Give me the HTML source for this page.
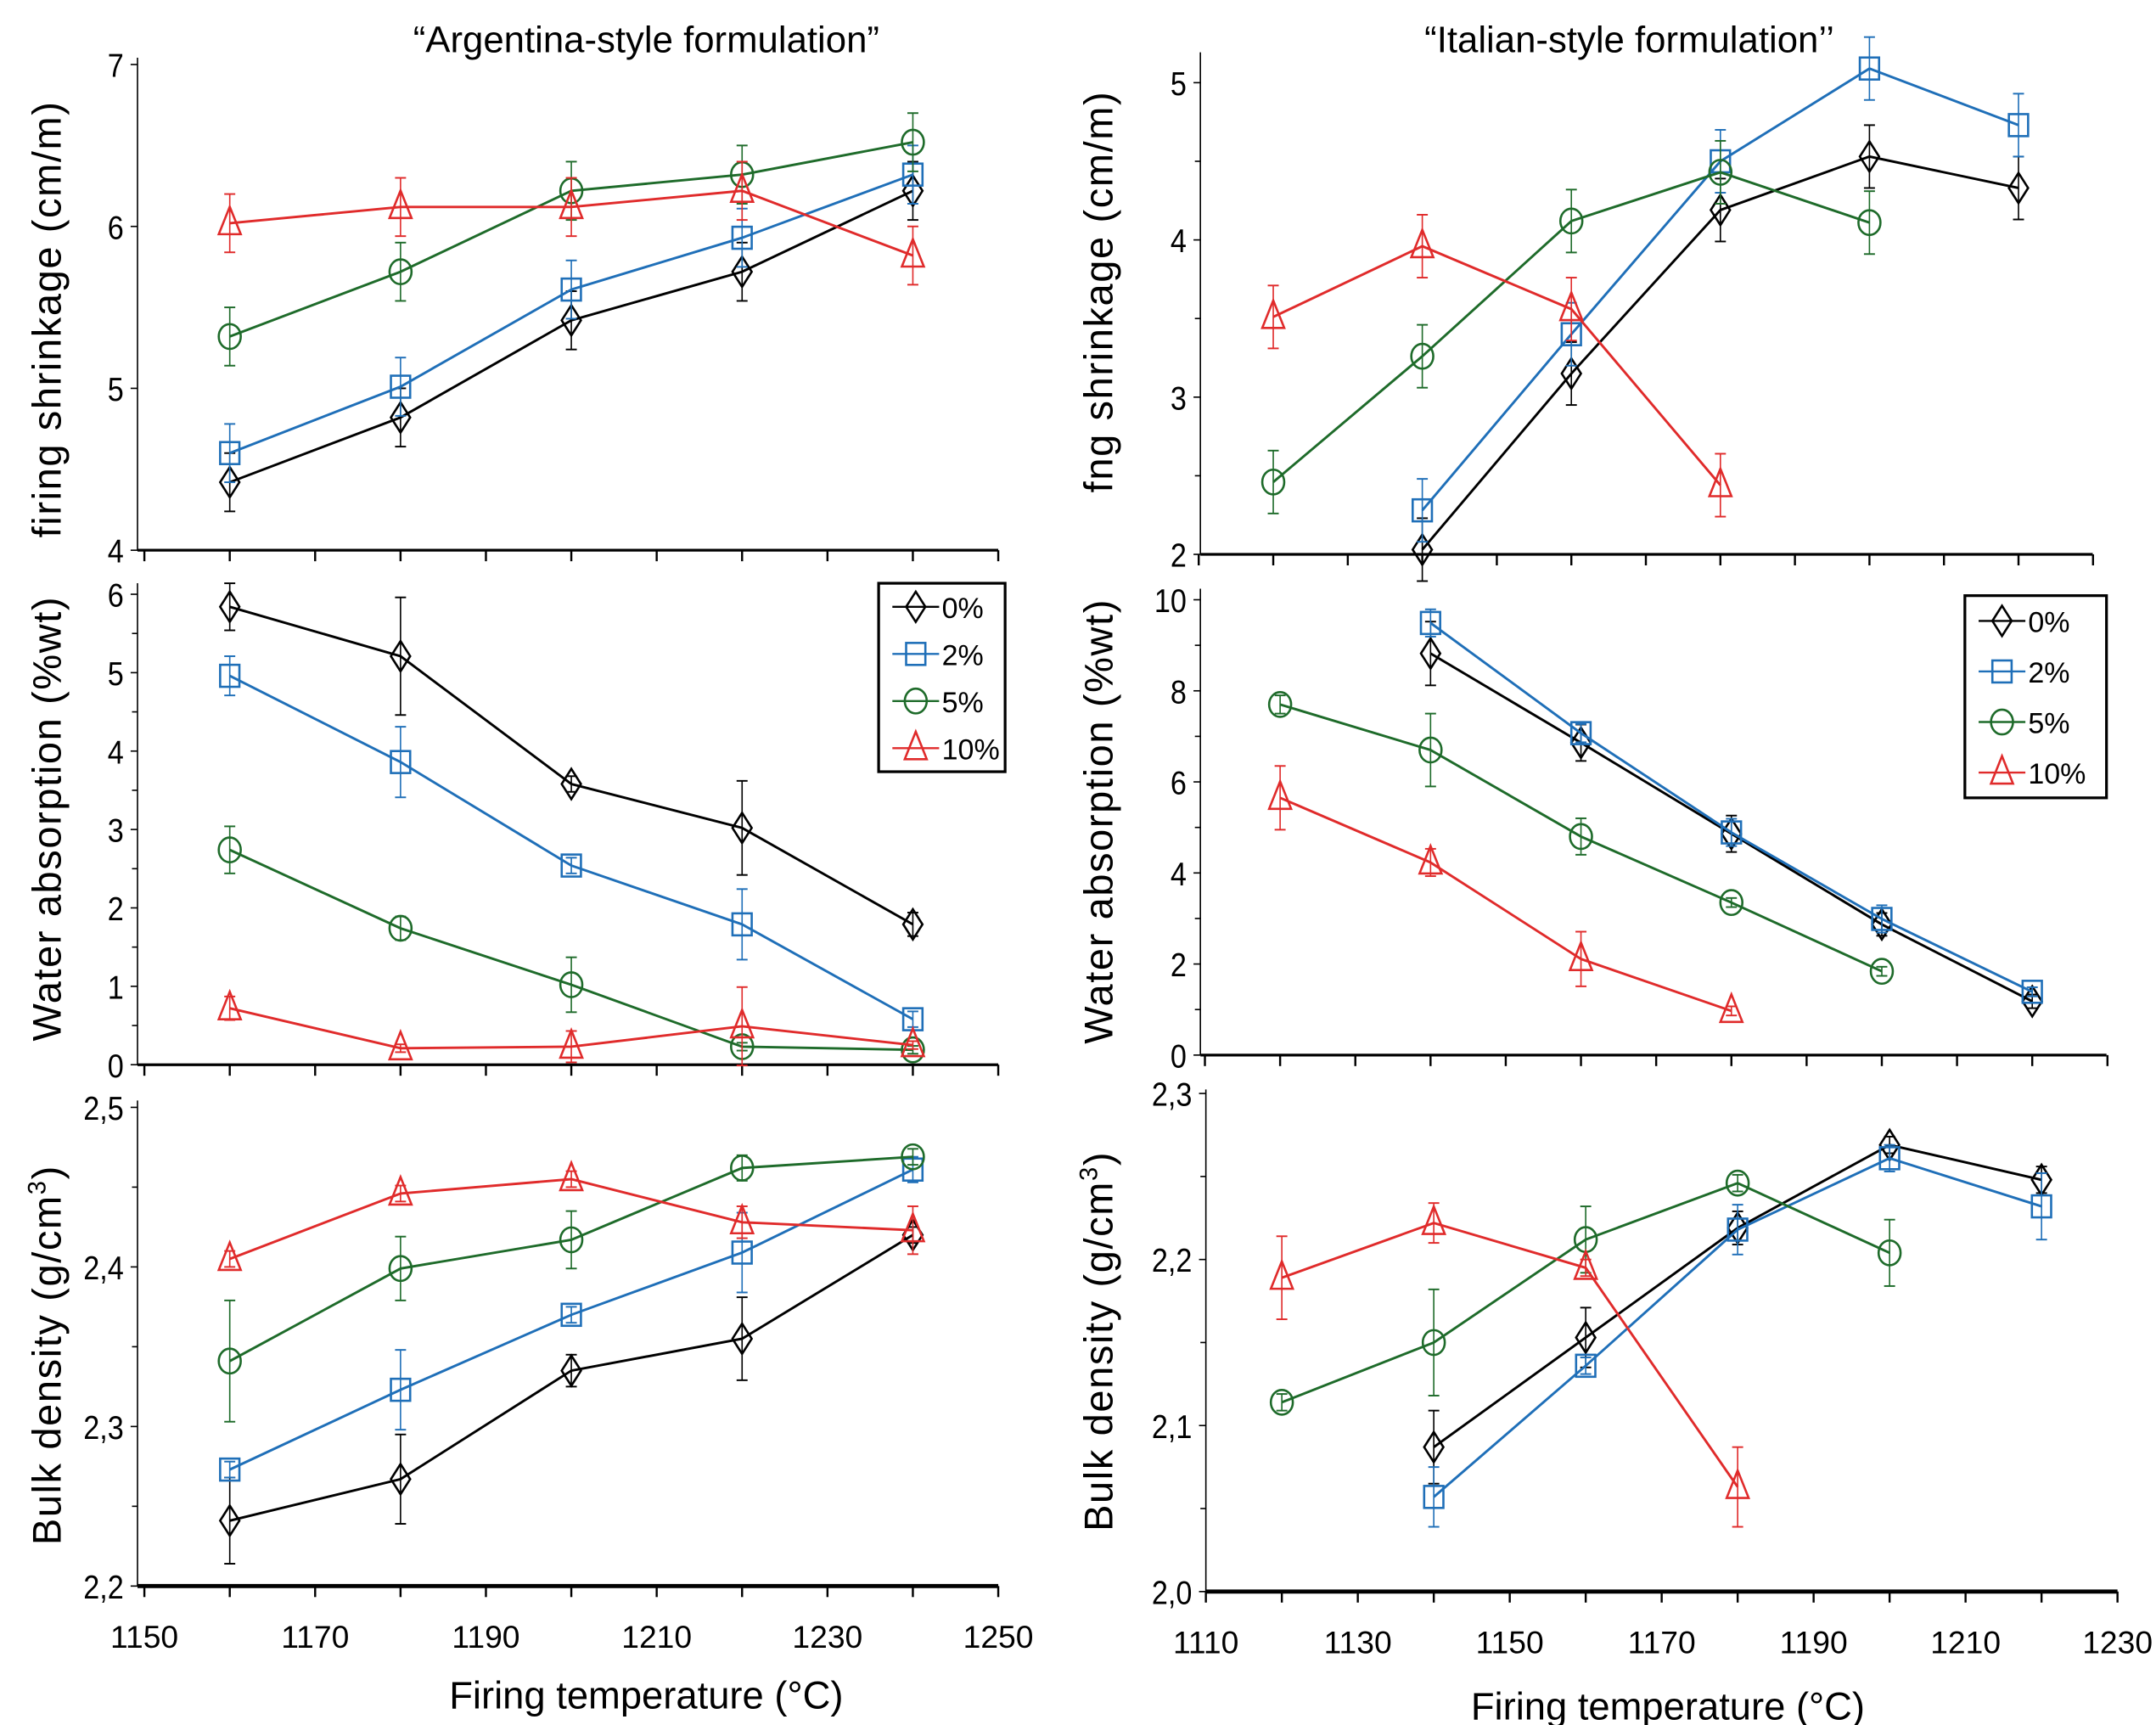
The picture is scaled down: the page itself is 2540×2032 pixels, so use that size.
<!DOCTYPE html>
<html><head><meta charset="utf-8"><style>
html,body{margin:0;padding:0;background:#fff;}
svg{display:block;font-family:"Liberation Sans",sans-serif;}
</style></head><body>
<svg id="fig" width="2540" height="2032" viewBox="0 0 1568 1254" preserveAspectRatio="none" xmlns="http://www.w3.org/2000/svg">
<text x="470" y="38" font-size="27" text-anchor="middle">“Argentina-style formulation”</text>
<text x="1185" y="38" font-size="27" text-anchor="middle">“Italian-style formulation’’</text>
<text x="470" y="1242" font-size="28" text-anchor="middle">Firing temperature (°C)</text>
<text x="1213" y="1250" font-size="28" text-anchor="middle">Firing temperature (°C)</text>
</svg>
<script>
const tempsL = [1160,1180,1200,1220,1240];
const tempsR = [1120,1140,1160,1180,1200,1220];
const seriesNames = ['0%','2%','5%','10%'];
const colors = ['#000000','#1f6fb8','#1e6b2a','#e02b2b'];

// Argentina shrinkage
const shrinkL0 = [4.42,4.82,5.42,5.72,6.22];
const shrinkL2 = [4.60,5.01,5.61,5.93,6.32];
const shrinkL5 = [5.32,5.72,6.22,6.32,6.52];
const shrinkL10 = [6.02,6.12,6.12,6.22,5.82];
const shrinkLErr = [0.18,0.18,0.18,0.18,0.18];
// Argentina water absorption
const waterL0 = [5.84,5.21,3.58,3.02,1.79];
const waterL2 = [4.96,3.86,2.54,1.79,0.58];
const waterL5 = [2.74,1.74,1.02,0.23,0.19];
const waterL10 = [0.72,0.21,0.23,0.49,0.25];
const waterLErr0 = [0.3,0.75,0.1,0.6,0.15];
const waterLErr2 = [0.25,0.45,0.1,0.45,0.1];
const waterLErr5 = [0.3,0.15,0.35,0.05,0.05];
const waterLErr10 = [0.15,0.05,0.2,0.5,0.05];
// Argentina bulk density
const densL0 = [2.241,2.267,2.335,2.355,2.420];
const densL2 = [2.273,2.323,2.370,2.409,2.461];
const densL5 = [2.341,2.399,2.417,2.462,2.469];
const densL10 = [2.405,2.446,2.455,2.428,2.423];
const densLErr0 = [0.027,0.028,0.01,0.026,0.005];
const densLErr2 = [0.005,0.025,0.005,0.025,0.008];
const densLErr5 = [0.038,0.02,0.018,0.008,0.005];
const densLErr10 = [0.005,0.005,0.005,0.01,0.015];
// Italian shrinkage (null = no point)
const shrinkR0 = [null,2.03,3.15,4.19,4.53,4.33];
const shrinkR2 = [null,2.28,3.40,4.50,5.09,4.73];
const shrinkR5 = [2.46,3.26,4.12,4.43,4.11,null];
const shrinkR10 = [3.51,3.96,3.56,2.44,null,null];
const shrinkRErr = [0.2,0.2,0.2,0.2,0.2,0.2];
// Italian water absorption
const waterR0 = [null,8.82,6.86,4.86,2.87,1.18];
const waterR2 = [null,9.49,7.07,4.89,2.99,1.39];
const waterR5 = [7.70,6.70,4.80,3.35,1.84,null];
const waterR10 = [5.65,4.23,2.11,0.97,null,null];
const waterRErr0 = [0,0.7,0.4,0.4,0.25,0.15];
const waterRErr2 = [0,0.3,0.2,0.3,0.3,0.1];
const waterRErr5 = [0.2,0.8,0.4,0.1,0.1,0];
const waterRErr10 = [0.7,0.3,0.6,0.1,0,0];
// Italian bulk density
const densR0 = [null,2.087,2.153,2.219,2.269,2.248];
const densR2 = [null,2.057,2.136,2.218,2.261,2.232];
const densR5 = [2.114,2.150,2.212,2.246,2.204,null];
const densR10 = [2.189,2.222,2.195,2.063,null,null];
const densRErr0 = [0,0.022,0.018,0.01,0.005,0.008];
const densRErr2 = [0,0.018,0.005,0.015,0.008,0.02];
const densRErr5 = [0.005,0.032,0.02,0.005,0.02,0];
const densRErr10 = [0.025,0.012,0.005,0.024,0,0];

const NS='http://www.w3.org/2000/svg';
const svg=document.getElementById('fig');
function el(tag,attrs,parent){const e=document.createElementNS(NS,tag);for(const k in attrs)e.setAttribute(k,attrs[k]);(parent||svg).appendChild(e);return e;}

function panel(cfg){
  const g=el('g',{});
  
  
  const xs=v=>cfg.x0+(v-cfg.t0)*cfg.xk;
  const ys=v=>cfg.yBase-(v-cfg.v0)*cfg.yk;
  const ya=el('line',{x1:cfg.axX,y1:cfg.yTop,x2:cfg.axX,y2:cfg.yBase,stroke:'#000','stroke-width':1},g);
  
  
  const xa=el('line',{x1:cfg.axX,y1:cfg.yBase,x2:cfg.axRight,y2:cfg.yBase,stroke:'#000','stroke-width':cfg.xw||2},g);
  
  
  for(let t=cfg.tick0;t<=cfg.tick1+0.01;t+=cfg.tickStep){
    const x=xs(t);
    el('line',{x1:x,y1:cfg.yBase,x2:x,y2:cfg.yBase+8,stroke:'#000','stroke-width':1.5},g);
  }
  for(let i=0;i<cfg.yTicks.length;i++){
    const v=cfg.yTicks[i];const y=ys(v);
    el('line',{x1:cfg.axX-5,y1:y,x2:cfg.axX,y2:y,stroke:'#000','stroke-width':1},g);
    const tx=el('text',{x:cfg.axX-10,y:y+9,'font-size':24,'text-anchor':'end',transform:`translate(${(cfg.axX-10)*0.12},0) scale(0.88,1)`},g);
    tx.textContent=cfg.yLabels[i];
    
    
  }
  if(cfg.minor) for(const v of cfg.minor){const y=ys(v);el('line',{x1:cfg.axX-4,y1:y,x2:cfg.axX,y2:y,stroke:'#000','stroke-width':1},g);}
  if(cfg.xLabels){
    for(let t=cfg.tick0;t<=cfg.tick1+0.01;t+=cfg.labStep){
      const lt=el('text',{x:xs(t),y:cfg.yBase+45,'font-size':23,'text-anchor':'middle'},g);
      lt.textContent=String(t);
      
      
    }
  }
  const yl=el('text',{x:0,y:0,'font-size':29,'text-anchor':'middle','letter-spacing':1,transform:`translate(${cfg.ylx},${cfg.yly}) rotate(-90)`},g);
  yl.textContent=cfg.ylabel;
  
  
  if(cfg.ylabelSup){const ts=el('tspan',{'font-size':18,dy:-11},yl);ts.textContent=cfg.ylabelSup;const ts2=el('tspan',{dy:11},yl);ts2.textContent=')';}
  cfg.series.forEach((vals,si)=>{
    const c=colors[si];const errs=cfg.errs[si];
    const sg=el('g',{},g);
    
    
    let pts=[];
    vals.forEach((v,i)=>{if(v!==null)pts.push([xs(cfg.temps[i]),ys(v),errs[i]*cfg.yk]);});
    el('polyline',{points:pts.map(p=>p[0]+','+p[1]).join(' '),fill:'none',stroke:c,'stroke-width':1.8},sg);
    pts.forEach(p=>{
      if(p[2]>0){
        el('line',{x1:p[0],y1:p[1]-p[2],x2:p[0],y2:p[1]+p[2],stroke:c,'stroke-width':1},sg);
        el('line',{x1:p[0]-4,y1:p[1]-p[2],x2:p[0]+4,y2:p[1]-p[2],stroke:c,'stroke-width':1.2},sg);
        el('line',{x1:p[0]-4,y1:p[1]+p[2],x2:p[0]+4,y2:p[1]+p[2],stroke:c,'stroke-width':1.2},sg);
      }
      marker(sg,si,p[0],p[1],c);
    });
  });
}
function marker(g,si,x,y,c){
  let m;
  if(si===0)m=el('polygon',{points:`${x},${y-11} ${x+7},${y} ${x},${y+11} ${x-7},${y}`,fill:'none',stroke:c,'stroke-width':1.6},g);
  else if(si===1)m=el('rect',{x:x-7,y:y-8,width:14,height:16,fill:'none',stroke:c,'stroke-width':1.6},g);
  else if(si===2)m=el('ellipse',{cx:x,cy:y,rx:8,ry:9,fill:'none',stroke:c,'stroke-width':1.6},g);
  else m=el('polygon',{points:`${x},${y-12} ${x+8},${y+8} ${x-8},${y+8}`,fill:'none',stroke:c,'stroke-width':1.6},g);
  
  
}
function legend(name,x,y,w,h){
  const g=el('g',{});
  
  
  el('rect',{x:x,y:y,width:w,height:h,fill:'#fff',stroke:'#000','stroke-width':2},g);
  const step=h/4;
  seriesNames.forEach((s,i)=>{
    const cy=y+step*(i+0.5);const c=colors[i];
    const eg=el('g',{},g);
    
    
    el('line',{x1:x+10,y1:cy,x2:x+44,y2:cy,stroke:c,'stroke-width':1.5},eg);
    marker(eg,i,x+27,cy,c);
    const t=el('text',{x:x+46,y:cy+8,'font-size':21},eg);t.textContent=s;
  });
}

panel({name:'shrinkage-argentina',temps:tempsL,t0:1150,x0:105,xk:6.21,v0:4,yBase:400,yk:117.7,yTop:42,axX:100,axRight:726,
  tick0:1150,tick1:1250,tickStep:10,yTicks:[4,5,6,7],yLabels:['4','5','6','7'],ylabel:'firing shrinkage (cm/m)',ylx:44,yly:232,
  series:[shrinkL0,shrinkL2,shrinkL5,shrinkL10],errs:[shrinkLErr,shrinkLErr,shrinkLErr,shrinkLErr]});
panel({name:'water-absorption-argentina',temps:tempsL,t0:1150,x0:105,xk:6.21,v0:0,yBase:774,yk:57,yTop:424,axX:100,axRight:726,
  tick0:1150,tick1:1250,tickStep:10,yTicks:[0,1,2,3,4,5,6],yLabels:['0','1','2','3','4','5','6'],minor:[0.5,1.5,2.5,3.5,4.5,5.5],ylabel:'Water absorption (%wt)',ylx:44,yly:595,
  series:[waterL0,waterL2,waterL5,waterL10],errs:[waterLErr0,waterLErr2,waterLErr5,waterLErr10]});
panel({name:'bulk-density-argentina',temps:tempsL,t0:1150,x0:105,xk:6.21,v0:2.2,yBase:1153,yk:1160,yTop:800,axX:100,axRight:726,xw:3,
  tick0:1150,tick1:1250,tickStep:10,labStep:20,xLabels:true,yTicks:[2.2,2.3,2.4,2.5],yLabels:['2,2','2,3','2,4','2,5'],minor:[2.25,2.35,2.45],ylabel:'Bulk density (g/cm',ylabelSup:'3',ylx:44,yly:985,
  series:[densL0,densL2,densL5,densL10],errs:[densLErr0,densLErr2,densLErr5,densLErr10]});

panel({name:'shrinkage-italian',temps:tempsR,t0:1120,x0:926,xk:5.42,v0:2,yBase:403,yk:114.3,yTop:38,axX:873,axRight:1522,
  tick0:1110,tick1:1230,tickStep:10,yTicks:[2,3,4,5],yLabels:['2','3','4','5'],minor:[2.5,3.5,4.5],ylabel:'fng shrinkage (cm/m)',ylx:809,yly:212,
  series:[shrinkR0,shrinkR2,shrinkR5,shrinkR10],errs:[shrinkRErr,shrinkRErr,shrinkRErr,shrinkRErr]});
panel({name:'water-absorption-italian',temps:tempsR,t0:1120,x0:931,xk:5.47,v0:0,yBase:767,yk:33.1,yTop:428,axX:873,axRight:1532,
  tick0:1110,tick1:1230,tickStep:10,yTicks:[0,2,4,6,8,10],yLabels:['0','2','4','6','8','10'],minor:[1,3,5,7,9],ylabel:'Water absorption (%wt)',ylx:809,yly:597,
  series:[waterR0,waterR2,waterR5,waterR10],errs:[waterRErr0,waterRErr2,waterRErr5,waterRErr10]});
panel({name:'bulk-density-italian',temps:tempsR,t0:1110,x0:877,xk:5.525,v0:2.0,yBase:1157,yk:1207,yTop:792,axX:877,axRight:1540,xw:3,
  tick0:1110,tick1:1230,tickStep:10,labStep:20,xLabels:true,yTicks:[2.0,2.1,2.2,2.3],yLabels:['2,0','2,1','2,2','2,3'],minor:[2.05,2.15,2.25],ylabel:'Bulk density (g/cm',ylabelSup:'3',ylx:809,yly:975,
  series:[densR0,densR2,densR5,densR10],errs:[densRErr0,densRErr2,densRErr5,densRErr10]});

legend('legend-argentina',639,424,92,137);
legend('legend-italian',1429,433,103,147);
</script>
</body></html>
